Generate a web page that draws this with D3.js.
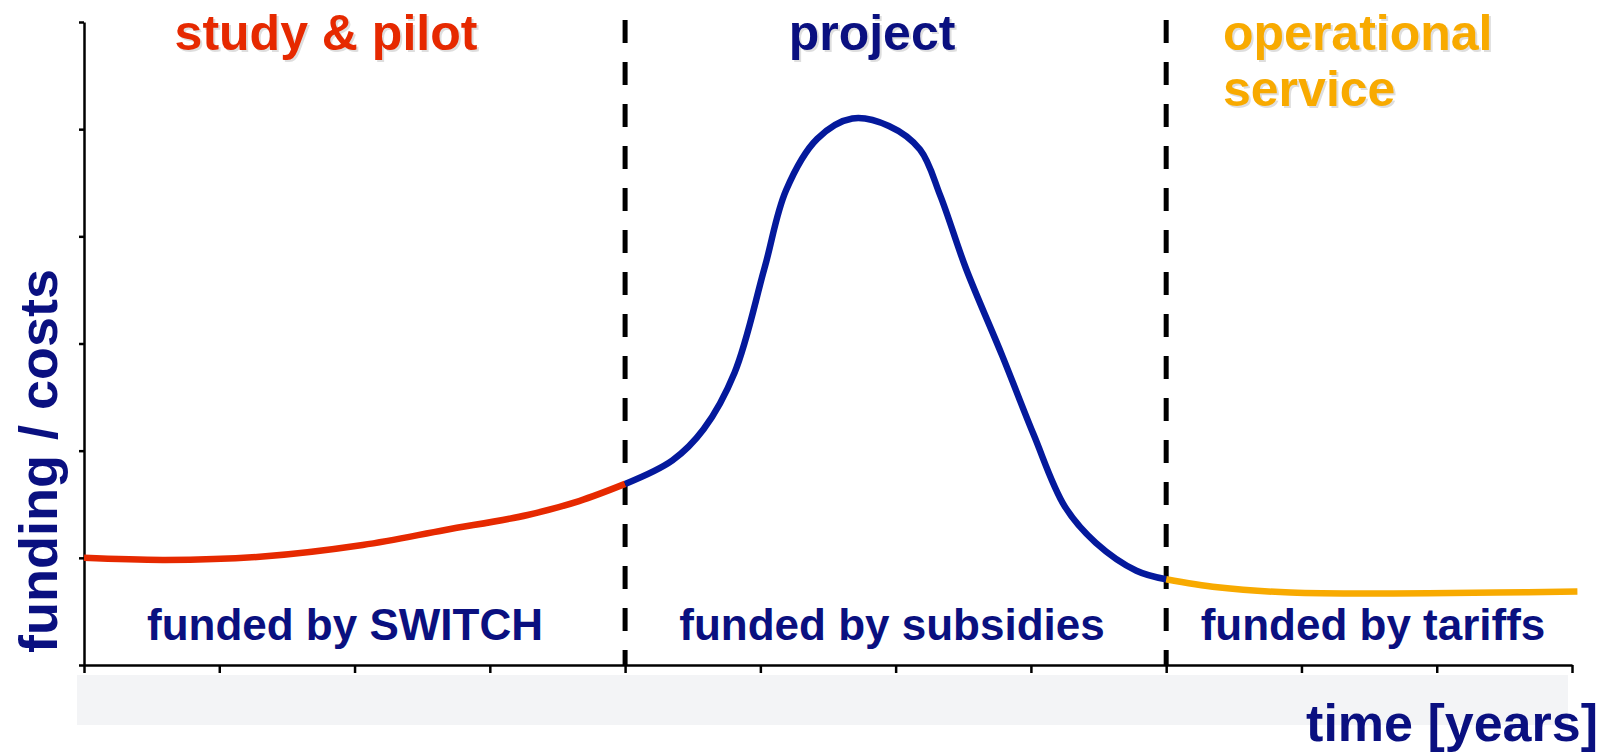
<!DOCTYPE html>
<html>
<head>
<meta charset="utf-8">
<script src="https://cdn.jsdelivr.net/npm/d3@7.9.0/dist/d3.min.js"></script>
<style>
  html, body { margin: 0; padding: 0; background: #fff; }
  svg { display: block; font-family: "Liberation Sans", Arial, sans-serif; font-weight: bold; }
</style>
</head>
<body>
<svg id="chart"></svg>
<script>
// phase curves, x = years (0..11), y = funding / costs (0..6)
const pilotCurve = [[0, 1.0], [0.6, 0.98], [1.3, 1.01], [2.06, 1.12], [2.67, 1.26], [3.28, 1.40], [3.66, 1.53], [4.0, 1.69]];
const projectCurve = [[4.0, 1.69], [4.35, 1.91], [4.58, 2.20], [4.81, 2.73], [5.03, 3.70], [5.19, 4.43], [5.42, 4.91],
    [5.68, 5.10], [5.95, 5.03], [6.18, 4.81], [6.33, 4.38], [6.52, 3.70], [6.79, 2.88], [7.02, 2.15],
    [7.25, 1.48], [7.48, 1.14], [7.78, 0.88], [8.0, 0.80]];
const serviceCurve = [[8.0, 0.80], [8.38, 0.725], [8.92, 0.676], [9.68, 0.667], [10.44, 0.676], [11.04, 0.686]];

const phaseBounds = [4, 8];
const xTicks = d3.range(0, 12);
const yTicks = d3.range(0, 7);

const phaseTitles = ['study & pilot', 'project', 'operational service'];
const fundingLabels = ['funded by SWITCH', 'funded by subsidies', 'funded by tariffs'];

const width = 1619;
const height = 754;
const red = '#e62900', navy = '#0a1080', blue = '#04199c', orange = '#f8aa00';

const svg = d3.select('#chart').attr('width', width).attr('height', height);

const x = d3.scaleLinear().domain([0, 11]).range([84, 1572]);
const y = d3.scaleLinear().domain([0, 6]).range([665, 22]);

// grey band under the time axis
svg.append('rect')
    .attr('x', 77).attr('y', 675)
    .attr('width', 1568 - 77).attr('height', 50)
    .attr('fill', '#f3f4f6');

// axes
const xAxis = svg.append('g')
    .attr('transform', `translate(0, ${y(0)})`)
    .call(d3.axisBottom(x).tickValues(xTicks).tickSize(8).tickSizeOuter(0).tickFormat(''));
const yAxis = svg.append('g')
    .attr('transform', `translate(${x(0)}, 0)`)
    .call(d3.axisLeft(y).tickValues(yTicks).tickSize(5).tickSizeOuter(0).tickFormat(''));
[xAxis, yAxis].forEach(g => {
    g.selectAll('path, line').attr('stroke', '#000').attr('stroke-width', 2.5);
});

// phase boundaries
svg.selectAll('line.bound')
    .data(phaseBounds)
    .join('line')
    .attr('class', 'bound')
    .attr('x1', d => x(d)).attr('x2', d => x(d))
    .attr('y1', 20).attr('y2', y(0))
    .attr('stroke', '#000')
    .attr('stroke-width', 5)
    .attr('stroke-dasharray', '23 19');

// curves
const line = d3.line()
    .x(d => x(d[0]))
    .y(d => y(d[1]))
    .curve(d3.curveCatmullRom.alpha(0.5));

[[pilotCurve, red], [projectCurve, blue], [serviceCurve, orange]].forEach(([data, color]) => {
    svg.append('path')
        .attr('d', line(data))
        .attr('fill', 'none')
        .attr('stroke', color)
        .attr('stroke-width', 6.5);
});

// phase titles with light shadow
function shadowText(txt, tx, ty, anchor, color) {
    svg.append('text').attr('x', tx + 2).attr('y', ty + 2)
        .attr('text-anchor', anchor).attr('font-size', 50)
        .attr('fill', '#dedede').text(txt);
    svg.append('text').attr('x', tx).attr('y', ty)
        .attr('text-anchor', anchor).attr('font-size', 50)
        .attr('fill', color).text(txt);
}
shadowText(phaseTitles[0], 326, 50, 'middle', red);
shadowText(phaseTitles[1], 872, 50, 'middle', navy);
shadowText('operational', 1223, 50, 'start', orange);
shadowText('service', 1223, 106, 'start', orange);

// funding sources
const fundX = [345, 892, 1373];
svg.selectAll('text.fund')
    .data(fundingLabels)
    .join('text')
    .attr('class', 'fund')
    .attr('x', (d, i) => fundX[i])
    .attr('y', 640)
    .attr('text-anchor', 'middle')
    .attr('font-size', 44)
    .attr('fill', navy)
    .text(d => d);

// axis titles
svg.append('text')
    .attr('x', 1598).attr('y', 741)
    .attr('text-anchor', 'end')
    .attr('font-size', 52)
    .attr('fill', navy)
    .text('time [years]');

svg.append('text')
    .attr('transform', 'translate(57, 653) rotate(-90)')
    .attr('font-size', 54)
    .attr('fill', navy)
    .text('funding / costs');
</script>
</body>
</html>
